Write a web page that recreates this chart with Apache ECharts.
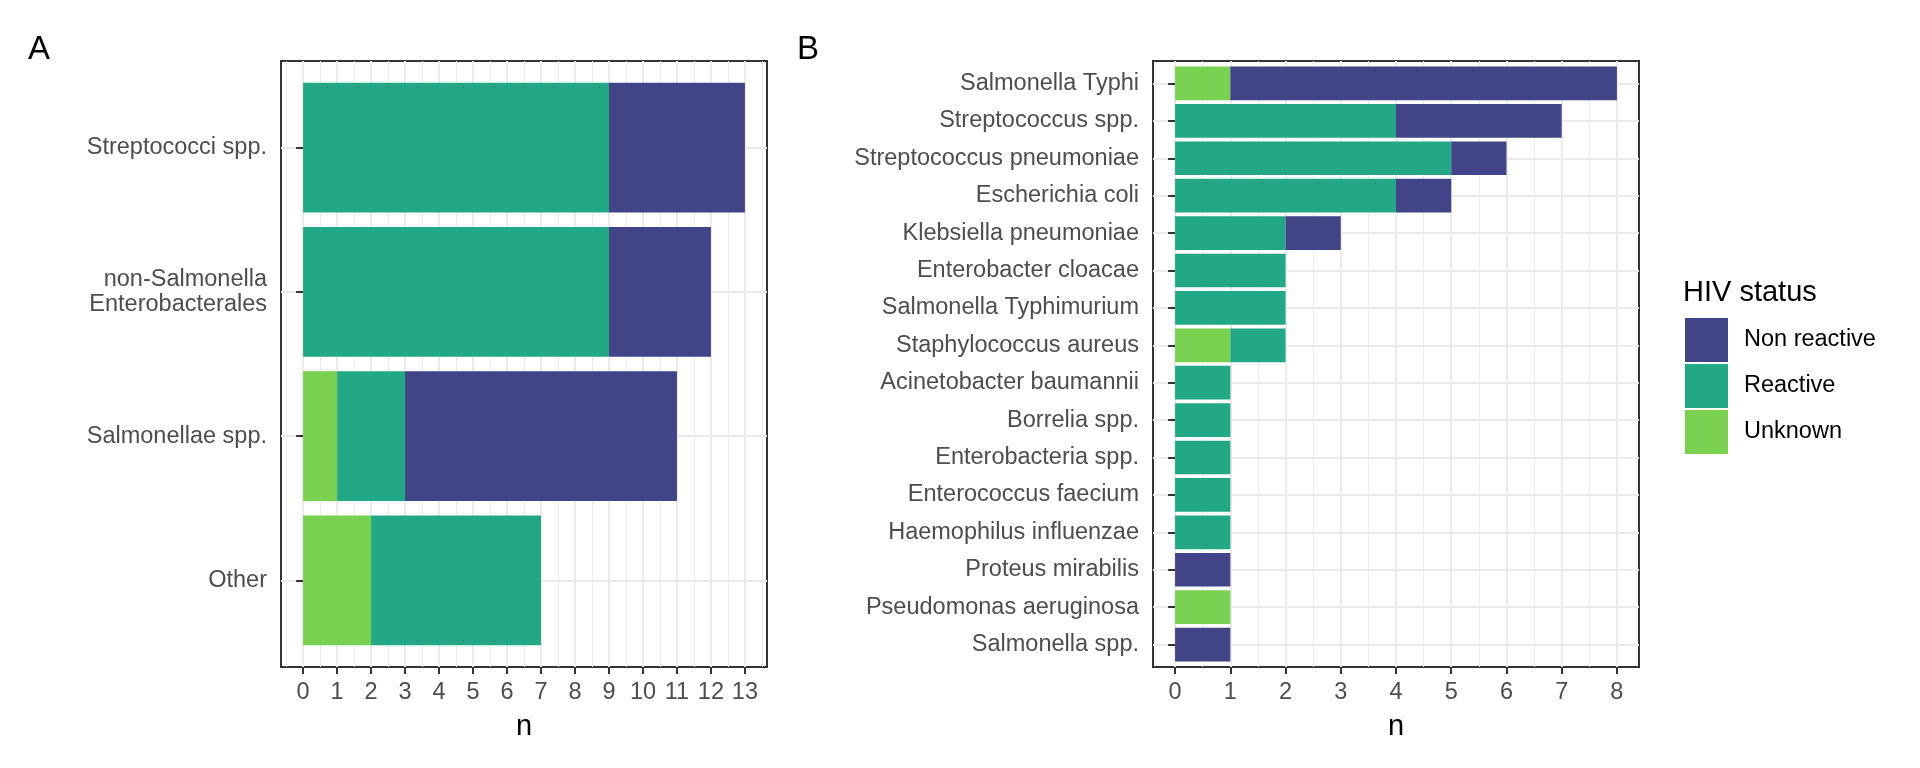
<!DOCTYPE html>
<html>
<head>
<meta charset="utf-8">
<script src="https://cdn.jsdelivr.net/npm/echarts@6/dist/echarts.min.js"></script>
<style>
html,body{margin:0;padding:0;background:#fff;}
#main{width:1920px;height:768px;}
</style>
</head>
<body>
<div id="main"></div>
<script>
// 图A 数据
var catsA = ['Streptococci spp.', 'non-Salmonella\nEnterobacterales', 'Salmonellae spp.', 'Other'];
var unknownA = [0, 0, 1, 2];
var reactiveA = [9, 9, 2, 5];
var nonReactiveA = [4, 3, 8, 0];
var ticksA = [0,1,2,3,4,5,6,7,8,9,10,11,12,13];

// 图B 数据
var catsB = ['Salmonella Typhi','Streptococcus spp.','Streptococcus pneumoniae','Escherichia coli',
	'Klebsiella pneumoniae','Enterobacter cloacae','Salmonella Typhimurium','Staphylococcus aureus',
	'Acinetobacter baumannii','Borrelia spp.','Enterobacteria spp.','Enterococcus faecium',
	'Haemophilus influenzae','Proteus mirabilis','Pseudomonas aeruginosa','Salmonella spp.'];
var unknownB =     [1,0,0,0,0,0,0,1,0,0,0,0,0,0,1,0];
var reactiveB =    [0,4,5,4,2,2,2,1,1,1,1,1,1,0,0,0];
var nonReactiveB = [7,3,1,1,1,0,0,0,0,0,0,0,0,1,0,1];
var ticksB = [0,1,2,3,4,5,6,7,8];

var colNR = '#414487', colR = '#22A884', colU = '#7AD151';
var font = 'Liberation Sans, Arial, sans-serif';
var gridCol = '#EBEBEB';

function seq(a, b){
	var r = [];
	for (var i = a; i <= b; i++) r.push(i);
	return r;
}
function minorVals(ticks, lo, hi){
	var r = [];
	for (var v = ticks[0] - 0.5; v <= ticks[ticks.length-1] + 0.5; v += 1) {
		if (v > lo && v < hi) r.push(v);
	}
	return r;
}

// 面板位置
var top0 = 61, bot0 = 101;
var panA = {left: 281, right: 1920 - 767};
var panB = {left: 1153, right: 1920 - 1639};
var plotH = 768 - top0 - bot0;
var unitA = plotH / (catsA.length + 0.2);
var unitB = plotH / (catsB.length + 0.2);

var xMinA = -0.65, xMaxA = 13.65;
var xMinB = -0.4, xMaxB = 8.4;

function frameAxes(gridIndex, ticks, xmin, xmax, cats){
	var xs = [{
		type: 'value', gridIndex: gridIndex, min: xmin, max: xmax, position: 'bottom',
		name: 'n', nameLocation: 'middle', nameGap: 45,
		nameTextStyle: {fontFamily: font, fontSize: 29, color: '#000'},
		axisLine: {show: false},
		axisTick: {show: true, length: 7, lineStyle: {color: '#333', width: 2}, customValues: ticks},
		axisLabel: {show: true, margin: 14, fontFamily: font, fontSize: 23.5, color: '#4D4D4D', customValues: ticks},
		splitLine: {show: true, lineStyle: {color: gridCol, width: 2}}
	}, {
		type: 'value', gridIndex: gridIndex, min: xmin, max: xmax, position: 'top',
		axisLine: {show: false},
		axisTick: {show: false, customValues: minorVals(ticks, xmin, xmax)},
		axisLabel: {show: false},
		splitLine: {show: true, lineStyle: {color: gridCol, width: 1}}
	}];
	var yv = seq(1, cats.length);
	var ys = [{
		type: 'value', gridIndex: gridIndex, min: 0.4, max: cats.length + 0.6, inverse: true,
		axisLine: {show: false},
		axisTick: {show: true, length: 7, lineStyle: {color: '#333', width: 2}, customValues: yv},
		axisLabel: {show: true, margin: 14, fontFamily: font, fontSize: 23.5, color: '#4D4D4D', lineHeight: 25,
			customValues: yv, formatter: function(v){ return cats[Math.round(v) - 1]; }},
		splitLine: {show: true, lineStyle: {color: gridCol, width: 2}}
	}];
	return {x: xs, y: ys};
}

var fA = frameAxes(0, ticksA, xMinA, xMaxA, catsA);
var fB = frameAxes(2, ticksB, xMinB, xMaxB, catsB);

var hidden = {axisLine: {show: false}, axisTick: {show: false}, axisLabel: {show: false}, splitLine: {show: false}};
function dataX(gi, xmin, xmax){
	return Object.assign({type: 'value', gridIndex: gi, min: xmin, max: xmax}, hidden);
}
function dataY(gi, cats){
	return Object.assign({type: 'category', gridIndex: gi, data: cats, inverse: true}, hidden);
}

function barSeries(name, color, data, xi, yi, stack){
	return {
		name: name, type: 'bar', stack: stack, xAxisIndex: xi, yAxisIndex: yi,
		barCategoryGap: '10%', itemStyle: {color: color}, data: data, silent: true
	};
}

var myChart = echarts.init(document.getElementById('main'), null, {renderer: 'canvas'});
var option = {
	animation: false,
	backgroundColor: '#fff',
	title: [
		{text: 'A', left: 23, top: 28, textStyle: {fontFamily: font, fontSize: 33, fontWeight: 'normal', color: '#000'}},
		{text: 'B', left: 792, top: 28, textStyle: {fontFamily: font, fontSize: 33, fontWeight: 'normal', color: '#000'}},
		{text: 'HIV status', left: 1678, top: 273, textStyle: {fontFamily: font, fontSize: 29, fontWeight: 'normal', color: '#000'}}
	],
	legend: {
		orient: 'vertical', left: 1680, top: 313, itemWidth: 43, itemHeight: 44, itemGap: 2,
		icon: 'rect', selectedMode: false,
		data: ['Non reactive', 'Reactive', 'Unknown'],
		textStyle: {fontFamily: font, fontSize: 23.5, color: '#000', padding: [0, 0, 0, 11]}
	},
	grid: [
		{left: panA.left, right: panA.right, top: top0, bottom: bot0, show: true, borderColor: '#333', borderWidth: 2, backgroundColor: '#fff'},
		{left: panA.left, right: panA.right, top: top0 + 0.1 * unitA, bottom: bot0 + 0.1 * unitA},
		{left: panB.left, right: panB.right, top: top0, bottom: bot0, show: true, borderColor: '#333', borderWidth: 2, backgroundColor: '#fff'},
		{left: panB.left, right: panB.right, top: top0 + 0.1 * unitB, bottom: bot0 + 0.1 * unitB}
	],
	xAxis: [fA.x[0], fA.x[1], dataX(1, xMinA, xMaxA), fB.x[0], fB.x[1], dataX(3, xMinB, xMaxB)],
	yAxis: [fA.y[0], dataY(1, catsA), fB.y[0], dataY(3, catsB)],
	series: [
		barSeries('Unknown', colU, unknownA, 2, 1, 'a'),
		barSeries('Reactive', colR, reactiveA, 2, 1, 'a'),
		barSeries('Non reactive', colNR, nonReactiveA, 2, 1, 'a'),
		barSeries('Unknown', colU, unknownB, 5, 3, 'b'),
		barSeries('Reactive', colR, reactiveB, 5, 3, 'b'),
		barSeries('Non reactive', colNR, nonReactiveB, 5, 3, 'b')
	]
};
myChart.setOption(option);
</script>
</body>
</html>
